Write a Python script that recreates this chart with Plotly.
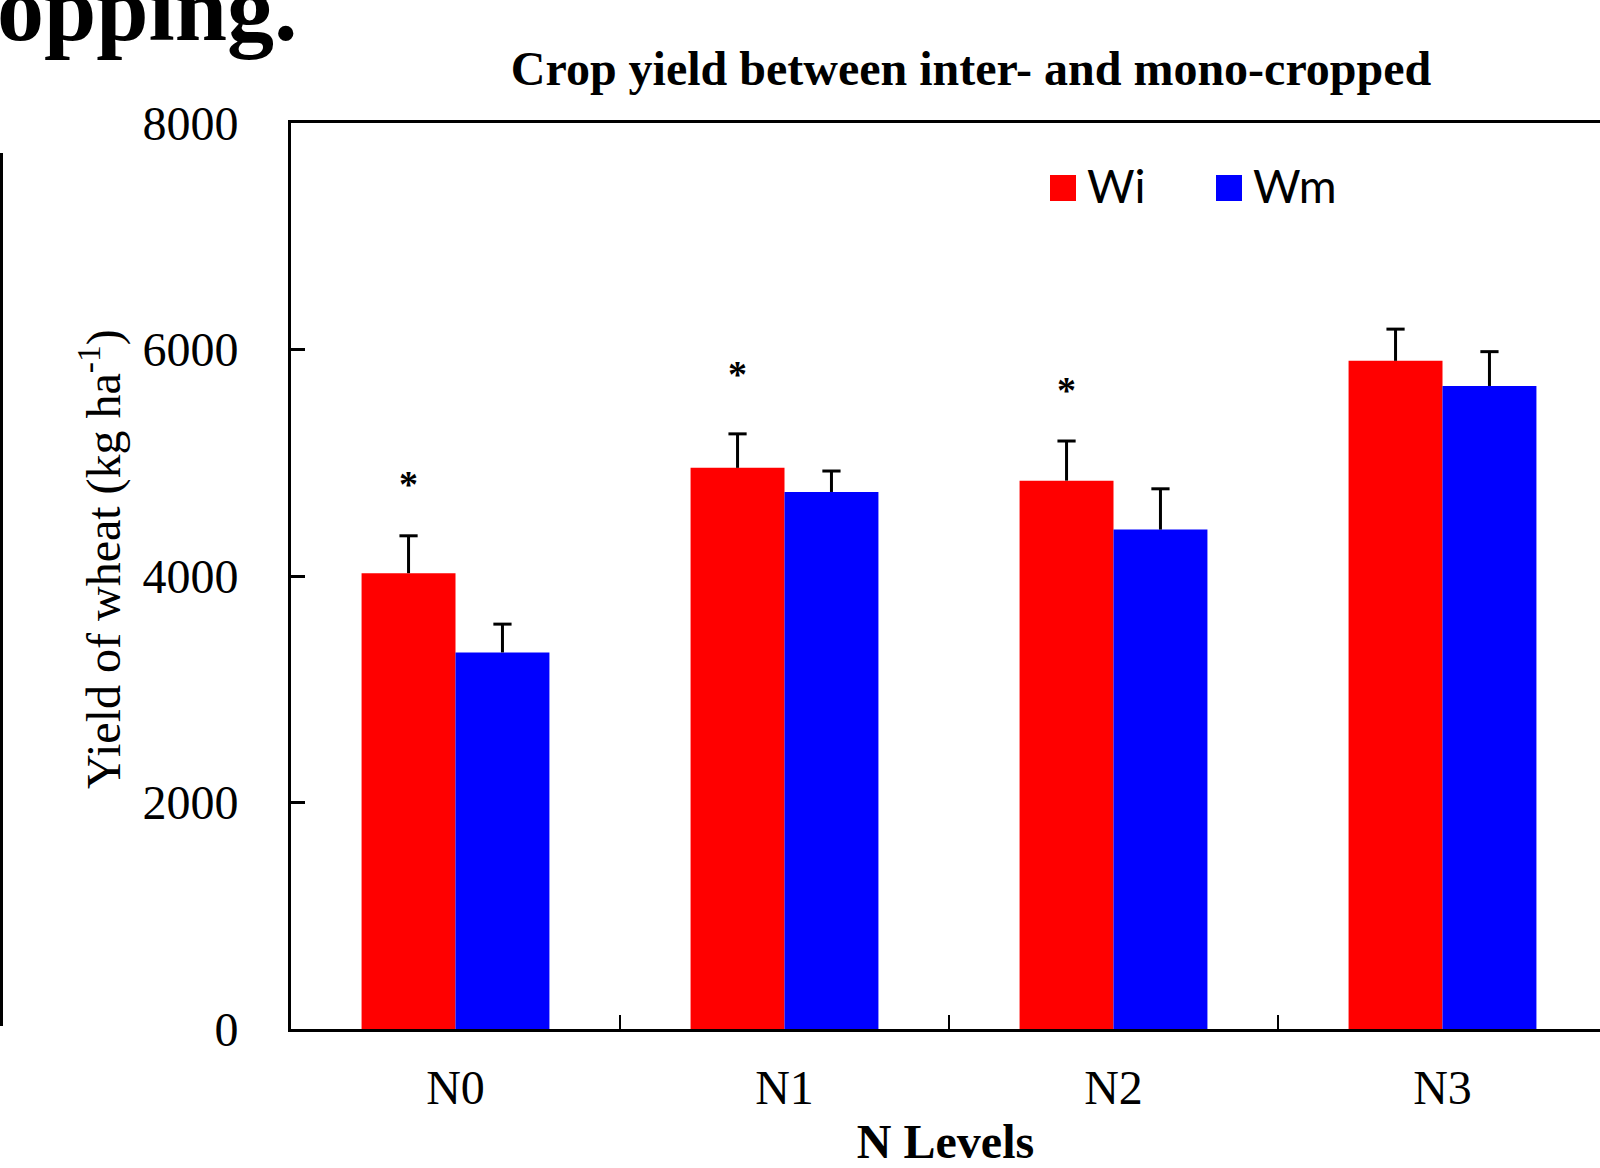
import plotly.graph_objects as go

# ---------------- data ----------------
categories = ["N0", "N1", "N2", "N3"]
wi_yield = [4025, 4955, 4842, 5900]
wi_err = [330, 300, 350, 280]
wm_yield = [3325, 4742, 4410, 5678]
wm_err = [250, 185, 360, 303]
star_cats = [0, 1, 2]
star_y = [4880, 5850, 5710]
y_ticks = [0, 2000, 4000, 6000, 8000]

# ---------------- layout geometry (pixels) ----------------
W, H = 1600, 1168
ML, MR, MT, MB = 291, 0, 123, 139
PW = W - ML - MR
PH = H - MT - MB
CAT_PX = 329.0
BARGAP = 0.429
HALF = (1 - BARGAP) / 4.0   # offset of each bar centre from category centre


def px_x(px):
    return (px - ML) / PW


def px_y(py):
    return (H - MB - py) / PH


SERIF = "Liberation Serif, Times New Roman, serif"
SANS = "Lato, Open Sans, sans-serif"

fig = go.Figure()
series = [("Wi", wi_yield, wi_err, "#ff0000", -HALF),
          ("Wm", wm_yield, wm_err, "#0000ff", HALF)]
for name, vals, errs, col, off in series:
    fig.add_trace(go.Bar(
        x=categories, y=vals, name=name,
        marker=dict(color=col, line=dict(width=0)),
        error_y=dict(type="data", symmetric=False, array=errs,
                     arrayminus=[0] * len(errs), color="black",
                     thickness=3, width=0),
        showlegend=False,
    ))
    # caps of the error bars (top only)
    fig.add_trace(go.Scatter(
        x=[i + off for i in range(len(categories))],
        y=[v + e for v, e in zip(vals, errs)],
        xaxis="x2", mode="markers",
        marker=dict(symbol="line-ew-open", size=13, color="black",
                    line=dict(width=3, color="black")),
        showlegend=False, hoverinfo="skip",
    ))

# significance asterisks above the Wi bars
for c, yv in zip(star_cats, star_y):
    fig.add_annotation(x=c - HALF, y=yv, xref="x2", yref="y", text="<b>*</b>",
                       showarrow=False, font=dict(family=SERIF, size=38, color="black"),
                       yshift=-8)

# manual legend (large square swatches)
legend_items = [("Wi", "#ff0000", 1050), ("Wm", "#0000ff", 1216)]
for name, col, x0 in legend_items:
    fig.add_shape(type="rect", xref="paper", yref="paper",
                  x0=px_x(x0), x1=px_x(x0 + 26), y0=px_y(201), y1=px_y(175),
                  fillcolor=col, line=dict(width=0))
    fig.add_annotation(xref="paper", yref="paper", x=px_x(x0 + 35), y=px_y(185),
                       xanchor="left", yanchor="middle", text=name, showarrow=False,
                       font=dict(family=SANS, size=46, color="black"))

# y-axis title (placed as rotated text to match the reference position)
fig.add_annotation(xref="paper", yref="paper", x=px_x(100), y=px_y(559),
                   xanchor="center", yanchor="middle", textangle=-90,
                   text="Yield of wheat (kg ha<sup>-1</sup>)", showarrow=False,
                   font=dict(family=SERIF, size=48, color="black"))

# cropped figure-level heading from the page
fig.add_annotation(xref="paper", yref="paper", x=px_x(299), y=px_y(62),
                   xanchor="right", yanchor="bottom", text="<b>opping.</b>",
                   showarrow=False, font=dict(family=SERIF, size=94, color="black"))

# border line of the neighbouring panel at the far left
fig.add_shape(type="line", xref="paper", yref="paper",
              x0=px_x(1.5), x1=px_x(1.5), y0=px_y(153), y1=px_y(1026),
              line=dict(color="black", width=3))

xrange = [-0.5, -0.5 + PW / CAT_PX]
fig.update_layout(
    width=W, height=H,
    margin=dict(l=ML, r=MR, t=MT, b=MB, autoexpand=False),
    paper_bgcolor="white", plot_bgcolor="white",
    barmode="group", bargap=BARGAP, bargroupgap=0,
    title=dict(text="<b>Crop yield between inter- and mono-cropped</b>",
               x=971 / W, xanchor="center", xref="container",
               y=1 - 68 / H, yanchor="middle", yref="container",
               font=dict(family=SERIF, size=48, color="black")),
    font=dict(family=SERIF, color="black"),
    xaxis2=dict(overlaying="x", range=xrange, visible=False, fixedrange=True),
)

fig.layout.xaxis.update(
    type="category", range=xrange,
    showline=True, linecolor="black", linewidth=3, mirror=True,
    ticks="inside", tickson="boundaries", ticklen=14, tickwidth=2, tickcolor="black",
    tickfont=dict(family=SERIF, size=48, color="black"),
    ticklabelstandoff=14,
    showgrid=False, zeroline=False,
    title=dict(text="<b>N Levels</b>", font=dict(family=SERIF, size=48, color="black"),
               standoff=18),
)
fig.update_yaxes(
    range=[0, 8000], tickvals=y_ticks, ticktext=[str(v) for v in y_ticks],
    showline=True, linecolor="black", linewidth=3, mirror=False,
    ticks="inside", ticklen=14, tickwidth=2.5, tickcolor="black",
    tickfont=dict(family=SERIF, size=48, color="black"),
    ticklabelstandoff=40,
    showgrid=False, zeroline=False,
)

fig.write_html("out.html")
